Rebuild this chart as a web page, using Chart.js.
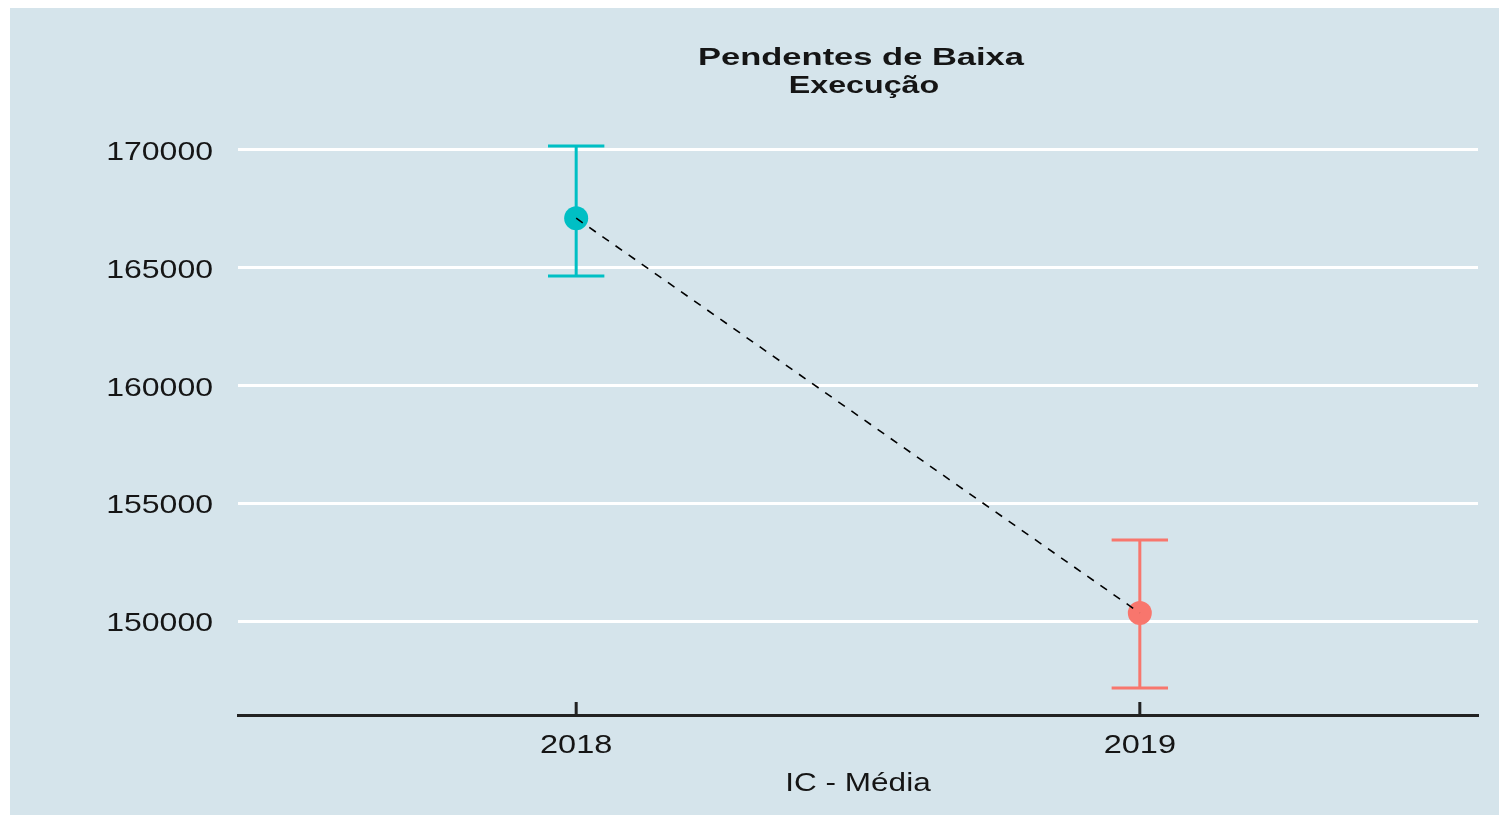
<!DOCTYPE html>
<html>
<head>
<meta charset="utf-8">
<script src="https://cdn.jsdelivr.net/npm/chart.js@4"></script>
<style>
html, body { margin: 0; padding: 0; background: #fff; }
#wrap { position: absolute; left: 10px; top: 8px; width: 1489px; height: 807px; background: #d5e4eb; }
</style>
</head>
<body>
<div id="wrap"><canvas id="ciChart" width="1489" height="807"></canvas></div>
<script>
const years = [2018, 2019];
const means = [167100, 150350];
const lower = [164650, 147170];
const upper = [170160, 153450];
const pointColors = ['#00BFC4', '#F8766D'];
const yTicks = [150000, 155000, 160000, 165000, 170000];
const titleLines = ['Pendentes de Baixa', 'Execução'];
const xTitle = 'IC - Média';

// texto "esticado" na horizontal, como na imagem original
function stretchText(ctx, text, x, y, sx, align) {
    ctx.save();
    ctx.translate(x, y);
    ctx.scale(sx, 1);
    ctx.textAlign = align;
    ctx.fillText(text, 0, 0);
    ctx.restore();
}

// Barras de erro (IC)
const errorBars = {
    id: 'errorBars',
    beforeDatasetsDraw(chart) {
        const ctx = chart.ctx, xs = chart.scales.x, ys = chart.scales.y;
        ctx.save();
        ctx.lineWidth = 3;
        years.forEach((yr, i) => {
            const x = xs.getPixelForValue(yr);
            const x0 = xs.getPixelForValue(yr - 0.05);
            const x1 = xs.getPixelForValue(yr + 0.05);
            const yl = ys.getPixelForValue(lower[i]);
            const yu = ys.getPixelForValue(upper[i]);
            ctx.strokeStyle = pointColors[i];
            ctx.beginPath();
            ctx.moveTo(x, yl); ctx.lineTo(x, yu);
            ctx.moveTo(x0, yl); ctx.lineTo(x1, yl);
            ctx.moveTo(x0, yu); ctx.lineTo(x1, yu);
            ctx.stroke();
        });
        ctx.restore();
    }
};

// Títulos, rótulos e marcas do eixo x
const textLayer = {
    id: 'textLayer',
    afterDraw(chart) {
        const ctx = chart.ctx, xs = chart.scales.x, ys = chart.scales.y, area = chart.chartArea;
        const cx = (area.left + area.right) / 2;
        ctx.save();
        ctx.strokeStyle = '#222';
        ctx.lineWidth = 3;
        xs.ticks.forEach(t => {
            const x = xs.getPixelForValue(t.value);
            ctx.beginPath();
            ctx.moveTo(x, area.bottom);
            ctx.lineTo(x, area.bottom - 13);
            ctx.stroke();
        });
        ctx.fillStyle = '#151515';
        ctx.textBaseline = 'alphabetic';
        ctx.font = '25px "Liberation Sans", Arial, sans-serif';
        ys.ticks.forEach(t => stretchText(ctx, String(t.value), area.left - 25, ys.getPixelForValue(t.value) + 10, 1.28, 'right'));
        xs.ticks.forEach(t => stretchText(ctx, String(t.value), xs.getPixelForValue(t.value), area.bottom + 38, 1.3, 'center'));
        stretchText(ctx, xTitle, cx, area.bottom + 76, 1.26, 'center');
        ctx.font = 'bold 23px "Liberation Sans", Arial, sans-serif';
        stretchText(ctx, titleLines[0], cx + 3, area.top - 54, 1.5, 'center');
        stretchText(ctx, titleLines[1], cx + 6, area.top - 26, 1.4, 'center');
        ctx.restore();
    }
};

const pts = years.map((yr, i) => ({ x: yr, y: means[i] }));

const ctx = document.getElementById('ciChart').getContext('2d');
const ciChart = new Chart(ctx, {
    type: 'scatter',
    data: {
        datasets: [{
            data: pts,
            showLine: true,
            borderColor: '#000',
            borderWidth: 1.6,
            borderDash: [8, 8],
            pointRadius: 0,
            fill: false,
            order: 0
        }, {
            data: pts,
            showLine: false,
            pointRadius: 12,
            pointHoverRadius: 12,
            pointBackgroundColor: pointColors,
            pointBorderWidth: 0,
            order: 1
        }]
    },
    options: {
        responsive: false,
        animation: false,
        layout: { padding: { top: 111, right: 21, left: 0, bottom: 0 } },
        plugins: { legend: { display: false }, tooltip: { enabled: false } },
        scales: {
            x: {
                type: 'linear',
                min: 2017.4,
                max: 2019.6,
                ticks: { display: false },
                grid: { display: false, drawTicks: false },
                border: { display: true, color: '#222', width: 3 },
                afterBuildTicks(s) { s.ticks = years.map(v => ({ value: v })); },
                afterFit(s) { s.height = 100; }
            },
            y: {
                min: 146020,
                max: 171310,
                ticks: { display: false },
                grid: { color: '#ffffff', lineWidth: 3, drawTicks: false },
                border: { display: false },
                afterBuildTicks(s) { s.ticks = yTicks.map(v => ({ value: v })); },
                afterFit(s) { s.width = 228; }
            }
        }
    },
    plugins: [errorBars, textLayer]
});
</script>
</body>
</html>
